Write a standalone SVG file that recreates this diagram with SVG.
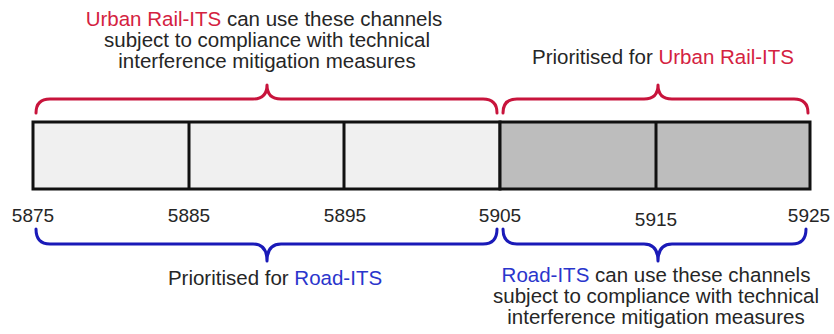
<svg xmlns="http://www.w3.org/2000/svg" width="834" height="334" viewBox="0 0 834 334">
<style>
.t{font-family:"Liberation Sans",Arial,sans-serif;font-size:20.5px;fill:#262626;text-anchor:middle}
.n{font-family:"Liberation Sans",Arial,sans-serif;font-size:19px;fill:#262626;text-anchor:middle}
.r{fill:#d4223f}
.b{fill:#2a35cc}
.br{fill:none;stroke-width:3;stroke-linecap:round;stroke-linejoin:round}
.red{stroke:#c8143c}
.blue{stroke:#1a1ab8}
.cell{stroke:#111;stroke-width:3}
</style>
<rect width="834" height="334" fill="#fff"/>
<g id="bar">
<rect x="33" y="122" width="467" height="67" fill="#f0f0f0" class="cell"/>
<rect x="500" y="122" width="310" height="67" fill="#bdbdbd" class="cell"/>
<line x1="189" y1="122" x2="189" y2="189" class="cell"/>
<line x1="344" y1="122" x2="344" y2="189" class="cell"/>
<line x1="656" y1="122" x2="656" y2="189" class="cell"/>
</g>
<g id="ticks">
<text class="n" x="33" y="222">5875</text>
<text class="n" x="189" y="222">5885</text>
<text class="n" x="345" y="222">5895</text>
<text class="n" x="500" y="222">5905</text>
<text class="n" x="656" y="226">5915</text>
<text class="n" x="809" y="222">5925</text>
</g>
<g id="connectors">
<path class="br red" d="M36,113 Q36,99 50,99 L253,99 Q267,99 267,85 Q267,99 281,99 L483,99 Q497,99 497,113"/>
<path class="br red" d="M503,113 Q503,99 517,99 L644,99 Q658,99 658,85 Q658,99 672,99 L794,99 Q808,99 808,113"/>
<path class="br blue" d="M36,229 Q36,244 50,244 L253,244 Q267,244 267,261 Q267,244 281,244 L483,244 Q497,244 497,229"/>
<path class="br blue" d="M503,229 Q503,244 517,244 L644,244 Q658,244 658,261 Q658,244 672,244 L792,244 Q806,244 806,229"/>
</g>
<g id="label-top-left">
<text class="t" x="264" y="26"><tspan class="r">Urban Rail-ITS</tspan> can use these channels</text>
<text class="t" x="267" y="47">subject to compliance with technical</text>
<text class="t" x="267" y="68">interference mitigation measures</text>
</g>
<g id="label-top-right">
<text class="t" x="663" y="64">Prioritised for <tspan class="r">Urban Rail-ITS</tspan></text>
</g>
<g id="label-bottom-left">
<text class="t" x="275" y="285">Prioritised for <tspan class="b">Road-ITS</tspan></text>
</g>
<g id="label-bottom-right">
<text class="t" x="656" y="282"><tspan class="b">Road-ITS</tspan> can use these channels</text>
<text class="t" x="656" y="303">subject to compliance with technical</text>
<text class="t" x="656" y="324">interference mitigation measures</text>
</g>
</svg>
